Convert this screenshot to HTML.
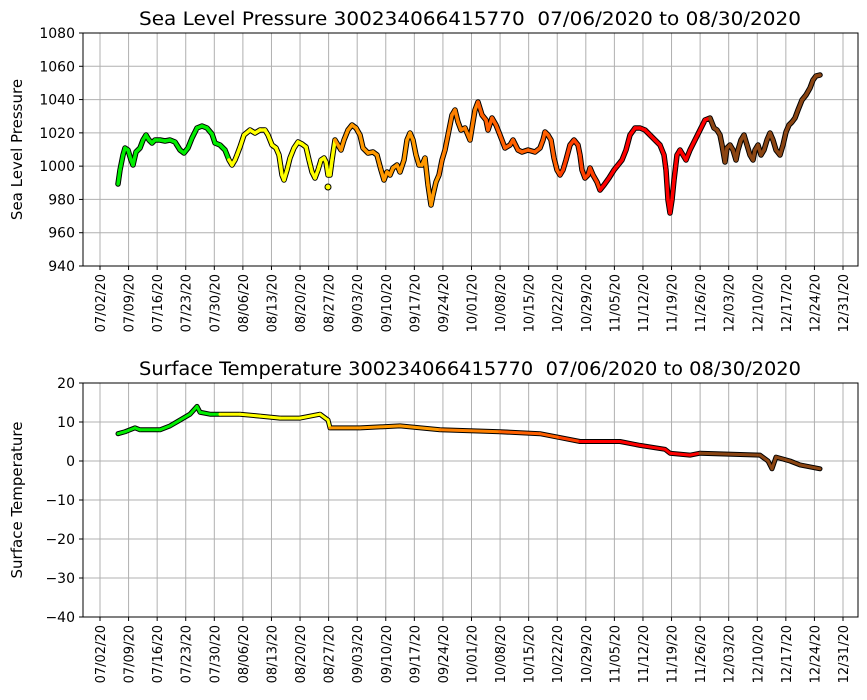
<!DOCTYPE html>
<html><head><meta charset="utf-8"><style>
html,body{margin:0;padding:0;background:#fff;width:867px;height:700px;overflow:hidden}
svg text{font-family:"DejaVu Sans","Liberation Sans",sans-serif;fill:#000;white-space:pre}
</style></head><body>
<svg id="s" width="867" height="700" xmlns="http://www.w3.org/2000/svg"></svg>
<script>
const S=document.getElementById('s');let h='';
const dates=['07/02/20','07/09/20','07/16/20','07/23/20','07/30/20','08/06/20','08/13/20','08/20/20','08/27/20','09/03/20','09/10/20','09/17/20','09/24/20','10/01/20','10/08/20','10/15/20','10/22/20','10/29/20','11/05/20','11/12/20','11/19/20','11/26/20','12/03/20','12/10/20','12/17/20','12/24/20','12/31/20'];
function xt(i){return 100+i*(743/26);}
function axes(top,bot,ymin,ymax,step,title,ylab){
  const fy=v=>bot-(v-ymin)/(ymax-ymin)*(bot-top);
  for(let i=0;i<27;i++){const x=xt(i);h+=`<line x1="${x}" y1="${top}" x2="${x}" y2="${bot}" stroke="#b0b0b0" stroke-width="1"/>`;
    h+=`<line x1="${x}" y1="${bot}" x2="${x}" y2="${bot+4}" stroke="#000"/>`;
    h+=`<text transform="translate(${x+5},${bot+8}) rotate(-90)" text-anchor="end" font-size="13">${dates[i]}</text>`;}
  for(let v=ymin;v<=ymax;v+=step){const y=fy(v);h+=`<line x1="83" y1="${y}" x2="858" y2="${y}" stroke="#b0b0b0"/>`;
    h+=`<line x1="79" y1="${y}" x2="83" y2="${y}" stroke="#000"/>`;
    h+=`<text x="75" y="${y+5}" text-anchor="end" font-size="14">${v<0?'\u2212'+(-v):v}</text>`;}
  h+=`<text x="470" y="${top-8}" text-anchor="middle" font-size="18.5" textLength="662" lengthAdjust="spacingAndGlyphs">${title}</text>`;
  h+=`<text transform="translate(22,${(top+bot)/2}) rotate(-90)" text-anchor="middle" font-size="15">${ylab}</text>`;
  return fy;
}
function col(x){if(x<228)return'#00ee00';if(x<335)return'#ffff00';if(x<440)return'#ff9900';if(x<480)return'#ff8000';if(x<560)return'#ff6000';if(x<600)return'#ff4000';if(x<712)return'#ff0000';return'#8b4513';}
function series(pts,bw,cw){
  let d='M'+pts.map(p=>p[0]+','+p[1]).join('L');
  h+=`<path d="${d}" fill="none" stroke="#000" stroke-width="${bw}" stroke-linejoin="round" stroke-linecap="round"/>`;
  for(let i=0;i<pts.length-1;i++){h+=`<line x1="${pts[i][0]}" y1="${pts[i][1]}" x2="${pts[i+1][0]}" y2="${pts[i+1][1]}" stroke="${col((pts[i][0]+pts[i+1][0])/2)}" stroke-width="${cw}" stroke-linecap="round"/>`;}
}
axes(33,266,940,1080,20,'Sea Level Pressure 300234066415770  07/06/2020 to 08/30/2020','Sea Level Pressure');
const P=[[118,184],[120,170],[123,155],[125,148],[128,150],[131,160],[133,165],[136,152],[140,148],[143,140],[146,135],[149,140],[152,143],[155,140],[160,140],[165,141],[170,140],[175,142],[180,150],[184,153],[188,148],[192,138],[197,128],[202,126],[207,128],[212,134],[215,143],[220,145],[225,150],[229,160],[232,165],[235,160],[237,155],[240,147],[244,135],[250,130],[255,133],[260,130],[265,130],[268,135],[272,145],[276,148],[279,155],[282,175],[284,180],[287,170],[290,158],[294,148],[298,142],[302,144],[306,147],[309,160],[312,172],[315,178],[318,170],[321,160],[324,158],[326,162],[328,175],[330,175],[332,160],[335,140],[338,145],[341,150],[344,140],[348,130],[352,125],[356,128],[360,135],[363,148],[368,153],[373,152],[377,155],[381,170],[384,180],[387,172],[390,175],[393,168],[397,165],[400,172],[404,160],[407,140],[410,133],[413,140],[416,155],[419,165],[422,165],[425,158],[428,185],[431,205],[433,195],[436,182],[439,175],[442,160],[445,150],[448,135],[452,115],[455,110],[458,122],[461,130],[465,128],[470,140],[475,110],[478,102],[482,115],[486,120],[488,130],[492,118],[496,125],[500,135],[505,148],[510,145],[513,140],[518,150],[522,152],[528,150],[535,152],[540,148],[543,140],[545,132],[548,135],[551,140],[554,158],[557,170],[560,175],[563,170],[566,160],[570,145],[574,140],[578,145],[580,155],[582,170],[585,178],[588,175],[590,168],[593,175],[597,182],[600,190],[604,185],[609,178],[614,170],[618,165],[622,160],[626,150],[630,135],[635,128],[640,128],[645,130],[650,135],[655,140],[660,145],[664,155],[666,170],[668,200],[670,213],[672,200],[674,180],[677,155],[680,150],[683,155],[686,160],[690,150],[695,140],[700,130],[705,120],[710,118],[714,128],[717,130],[720,135],[722,145],[725,162],[727,148],[730,145],[733,150],[736,160],[738,150],[741,140],[744,135],[747,145],[750,155],[753,160],[755,150],[758,145],[761,155],[764,150],[767,140],[770,133],[773,140],[776,150],[780,155],[783,145],[786,132],[789,125],[792,122],[795,118],[798,110],[802,100],[806,95],[810,88],[813,80],[816,76],[820,75]];
series(P,5.5,3.5);
h+=`<circle cx="328" cy="187" r="3" fill="#ffff00" stroke="#000"/>`;
const fy=axes(383,617,-40,20,10,'Surface Temperature 300234066415770  07/06/2020 to 08/30/2020','Surface Temperature');
const T=[[118,7],[125,7.5],[135,8.5],[140,8],[160,8],[170,9],[180,10.5],[190,12],[197,14],[200,12.5],[210,12],[220,12],[240,12],[260,11.5],[280,11],[300,11],[320,12],[328,10.5],[330,8.5],[360,8.5],[400,9],[440,8],[500,7.5],[540,7],[560,6],[580,5],[620,5],[640,4],[665,3],[670,2],[690,1.5],[700,2],[760,1.5],[768,0],[772,-2],[776,1],[790,0],[800,-1],[820,-2]].map(p=>[p[0],fy(p[1])]);
series(T,5,3);
h+=`<rect x="83" y="33" width="775" height="233" fill="none" stroke="#000"/><rect x="83" y="383" width="775" height="234" fill="none" stroke="#000"/>`;
S.innerHTML=h;
</script>
</body></html>
